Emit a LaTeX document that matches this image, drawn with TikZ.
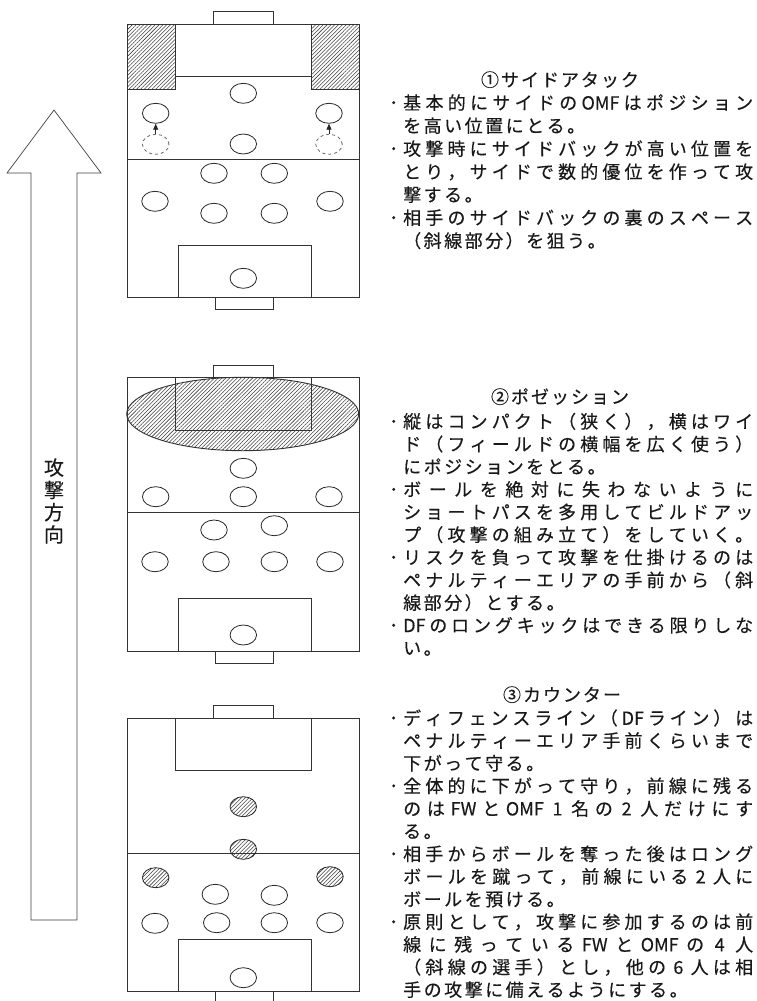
\documentclass[tikz,border=0pt]{standalone}
\usepackage{fontspec}
\setmainfont{Noto Sans CJK JP}
\newfontfamily\jp{Noto Sans CJK JP}[FakeBold=0.3]
\usetikzlibrary{shapes.geometric,patterns.meta,arrows.meta}

\makeatletter
\def\js@glue{}
\newcommand\jspread[1]{\js@first#1\js@end}
\def\js@first#1{#1\js@next}
\def\js@endm{\js@end}
\def\js@next#1{\def\js@tmp{#1}\ifx\js@tmp\js@endm\else\js@glue#1\expandafter\js@next\fi}
\newcommand\jfull[1]{\hbox to 350pt{\def\js@glue{\hskip 1pt plus 1fil}\jspread{#1}}}
\newcommand\jnat[1]{\hbox{\def\js@glue{\hskip 2.5pt}\jspread{#1}}}
\newcommand\jttl[1]{\hbox{\def\js@glue{\hskip 2pt}\jspread{#1}}}
\makeatother
\newcommand\bul{\llap{･\hskip 5pt}}
\newcommand\num[1]{\hskip 3pt #1\hskip 3pt}

\newcommand\pitchfield{%
  \draw[fl] (127.3,0) rectangle (359.3,273.5);
  \draw[fl] (127.3,135) -- (359.3,135);
  \draw[fl] (213.5,-12.5) rectangle (273,0);
  \draw[fl] (175,0) rectangle (311,52.5);
  \draw[fl] (178,221) rectangle (311,273.5);
  \draw[fl] (215,273.5) rectangle (273.5,285.5);
}

\tikzset{
  fl/.style={draw=black!80, line width=0.9pt},
  pl/.style={ellipse, draw=black!85, line width=0.8pt, minimum width=26.5pt, minimum height=20pt, inner sep=0pt},
  ghost/.style={pl, dashed, draw=black!60},
  hat/.style={pattern={Lines[angle=45,distance=2.7pt,line width=0.55pt]}, pattern color=black!75},
  txt/.style={anchor=base west, inner sep=0pt, font=\jp\fontsize{18pt}{22pt}\selectfont, text=black!90},
  ttl/.style={anchor=base, inner sep=0pt, font=\jp\fontsize{18pt}{22pt}\selectfont, text=black!90},
  movearrow/.style={-{Triangle[length=6pt,width=5pt]}, line width=0.9pt, draw=black!85},
  bigarrow/.style={draw=black!75, line width=0.7pt}
}

\begin{document}
\begin{tikzpicture}[x=1pt,y=-1pt]
\useasboundingbox (0,0) rectangle (756,1001);

% ---------- attack direction arrow ----------
\draw[bigarrow] (31,920) -- (31,173) -- (7,173) -- (54,110) -- (101,173) -- (77,173) -- (77,920) -- cycle;
\node[inner sep=0pt, align=center, font=\jp\fontsize{20pt}{22.3pt}\selectfont, text=black!90] (dir) at (54,501) {攻\\撃\\方\\向};

% ---------- field 1 : side attack ----------
\draw[fl, hat] (127.3,24) rectangle (175,89.3);
\draw[fl, hat] (311,24) rectangle (359.3,89.3);
\begin{scope}[yshift=-24pt]
\pitchfield
\end{scope}
\node[pl] (a1) at (243.3,93.3) {};
\node[pl] (a2) at (155.7,113.3) {};
\node[pl] (a3) at (329,113.3) {};
\node[ghost] (a2g) at (155.7,144.3) {};
\node[ghost] (a3g) at (329,144.3) {};
\node[pl] (a4) at (243.3,144) {};
\node[pl] (a5) at (214,173.3) {};
\node[pl] (a6) at (274.3,173.3) {};
\node[pl] (a7) at (155,201.3) {};
\node[pl] (a8) at (214,213.3) {};
\node[pl] (a9) at (274.3,213.3) {};
\node[pl] (a10) at (330,201.3) {};
\node[pl] (a11) at (243.3,278.3) {};
\draw[movearrow] (a2g) -- (a2);
\draw[movearrow] (a3g) -- (a3);

% ---------- field 2 : possession ----------
\begin{scope}[yshift=-377.7pt]
\pitchfield
\end{scope}
\draw[fl, hat] (242.7,414) ellipse [x radius=116, y radius=36.7];
\node[pl] (b1) at (243.3,468.3) {};
\node[pl] (b2) at (155.7,496.7) {};
\node[pl] (b3) at (243.3,496.7) {};
\node[pl] (b4) at (329,496.7) {};
\node[pl] (b5) at (214,530) {};
\node[pl] (b6) at (274.3,525.7) {};
\node[pl] (b7) at (155,561.7) {};
\node[pl] (b8) at (216,561.7) {};
\node[pl] (b9) at (274.3,561.7) {};
\node[pl] (b10) at (330,561.7) {};
\node[pl] (b11) at (243.3,635) {};

% ---------- field 3 : counter ----------
\begin{scope}[yshift=-718.3pt]
\pitchfield
\end{scope}
\node[pl, hat] (c1) at (243.3,806.7) {};
\node[pl, hat] (c2) at (243.3,849.3) {};
\node[pl, hat] (c3) at (155.7,877.7) {};
\node[pl, hat] (c4) at (330,876.7) {};
\node[pl] (c5) at (215.3,894.3) {};
\node[pl] (c6) at (274.3,895.3) {};
\node[pl] (c7) at (155,923.3) {};
\node[pl] (c8) at (216.7,922.7) {};
\node[pl] (c9) at (274.3,922.7) {};
\node[pl] (c10) at (330,922.7) {};
\node[pl] (c11) at (243.3,977.7) {};

% ---------- text block 1 ----------
\node[ttl] (t1) at (560,86.5) {\jttl{①サイドアタック}};
\node[txt] (t1a) at (403,109.5) {\bul\jfull{基本的にサイドの{OMF}はポジション}};
\node[txt] (t1b) at (403,132.5) {\jnat{を高い位置にとる。}};
\node[txt] (t1c) at (403,155.5) {\bul\jfull{攻撃時にサイドバックが高い位置を}};
\node[txt] (t1d) at (403,178.5) {\jfull{とり，サイドで数的優位を作って攻}};
\node[txt] (t1e) at (403,201.5) {\jnat{撃する。}};
\node[txt] (t1f) at (403,224.5) {\bul\jfull{相手のサイドバックの裏のスペース}};
\node[txt] (t1g) at (403,247.5) {\jnat{（斜線部分）を狙う。}};

% ---------- text block 2 ----------
\node[ttl] (t2) at (560,403.5) {\jttl{②ポゼッション}};
\node[txt] (t2a) at (403,428.2) {\bul\jfull{縦はコンパクト（狭く），横はワイ}};
\node[txt] (t2b) at (403,450.9) {\jfull{ド（フィールドの横幅を広く使う）}};
\node[txt] (t2c) at (403,473.5) {\jnat{にポジションをとる。}};
\node[txt] (t2d) at (403,496.2) {\bul\jfull{ボールを絶対に失わないように}};
\node[txt] (t2e) at (403,518.8) {\jfull{ショートパスを多用してビルドアッ}};
\node[txt] (t2f) at (403,541.5) {\jfull{プ（攻撃の組み立て）をしていく。}};
\node[txt] (t2g) at (403,564.1) {\bul\jfull{リスクを負って攻撃を仕掛けるのは}};
\node[txt] (t2h) at (403,586.8) {\jfull{ペナルティーエリアの手前から（斜}};
\node[txt] (t2i) at (403,609.5) {\jnat{線部分）とする。}};
\node[txt] (t2j) at (403,632.1) {\bul\jfull{{DF}のロングキックはできる限りしな}};
\node[txt] (t2k) at (403,654.7) {\jnat{い。}};

% ---------- text block 3 ----------
\node[ttl] (t3) at (562,701.5) {\jttl{③カウンター}};
\node[txt] (t3a) at (403,724.8) {\bul\jfull{ディフェンスライン（{DF}ライン）は}};
\node[txt] (t3b) at (403,747.4) {\jfull{ペナルティーエリア手前くらいまで}};
\node[txt] (t3c) at (403,770.1) {\jnat{下がって守る。}};
\node[txt] (t3d) at (403,792.7) {\bul\jfull{全体的に下がって守り，前線に残る}};
\node[txt] (t3e) at (403,815.4) {\jfull{のは{FW}と{OMF}{\num{1}}名の{\num{2}}人だけにす}};
\node[txt] (t3f) at (403,838.0) {\jnat{る。}};
\node[txt] (t3g) at (403,860.7) {\bul\jfull{相手からボールを奪った後はロング}};
\node[txt] (t3h) at (403,883.3) {\jfull{ボールを蹴って，前線にいる{\num{2}}人に}};
\node[txt] (t3i) at (403,906.0) {\jnat{ボールを預ける。}};
\node[txt] (t3j) at (403,928.6) {\bul\jfull{原則として，攻撃に参加するのは前}};
\node[txt] (t3k) at (403,951.3) {\jfull{線に残っている{FW}と{OMF}の{\num{4}}人}};
\node[txt] (t3l) at (403,973.9) {\jfull{（斜線の選手）とし，他の{\num{6}}人は相}};
\node[txt] (t3m) at (403,996.5) {\jnat{手の攻撃に備えるようにする。}};
\end{tikzpicture}
\end{document}
